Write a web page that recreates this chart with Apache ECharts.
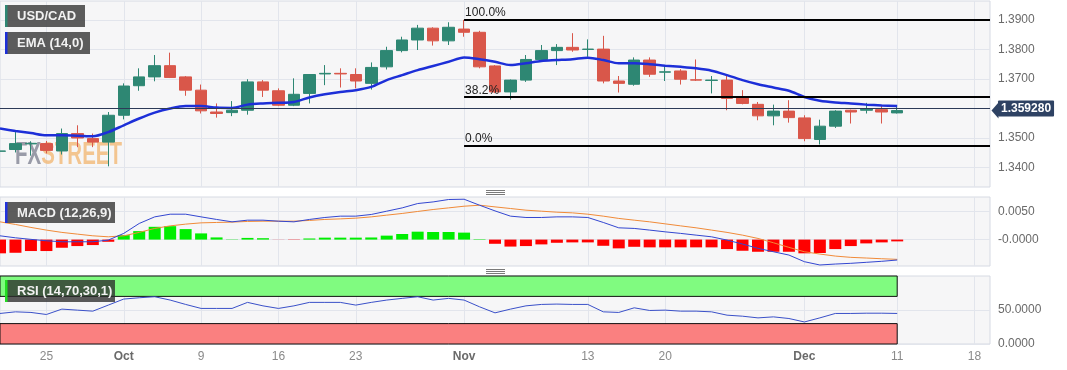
<!DOCTYPE html>
<html>
<head>
<meta charset="utf-8">
<script src="https://cdn.jsdelivr.net/npm/echarts@6.0.0/dist/echarts.min.js"></script>
<style>
html,body{margin:0;padding:0;background:#ffffff;}
#chart{width:1067px;height:370px;}
</style>
</head>
<body>
<div id="chart"></div>
<script>
// ---------------- DATA ----------------
const dates = ['2023-09-20','2023-09-21','2023-09-22','2023-09-25','2023-09-26','2023-09-27','2023-09-28','2023-09-29',
'2023-10-02','2023-10-03','2023-10-04','2023-10-05','2023-10-06','2023-10-09','2023-10-10','2023-10-11','2023-10-12','2023-10-13',
'2023-10-16','2023-10-17','2023-10-18','2023-10-19','2023-10-20','2023-10-23','2023-10-24','2023-10-25','2023-10-26','2023-10-27',
'2023-10-30','2023-10-31','2023-11-01','2023-11-02','2023-11-03','2023-11-06','2023-11-07','2023-11-08','2023-11-09','2023-11-10',
'2023-11-13','2023-11-14','2023-11-15','2023-11-16','2023-11-17','2023-11-20','2023-11-21','2023-11-22','2023-11-23','2023-11-24',
'2023-11-27','2023-11-28','2023-11-29','2023-11-30','2023-12-01','2023-12-04','2023-12-05','2023-12-06','2023-12-07','2023-12-08',
'2023-12-11'];

const openP = [1.3455,1.3461,1.3480,1.3481,1.3456,1.3515,1.3498,1.3486,1.3577,1.3677,
1.3707,1.3745,1.3707,1.3662,1.3588,1.3586,1.3594,1.3690,1.3660,1.3611,
1.3651,1.3717,1.3719,1.3715,1.3685,1.3741,1.3796,1.3832,1.3872,1.3829,
1.3869,1.3858,1.3744,1.3656,1.3696,1.3766,1.3796,1.3807,1.3800,1.3801,
1.3693,1.3682,1.3764,1.3723,1.3727,1.3697,1.3695,1.3696,1.3639,1.3614,
1.3575,1.3591,1.3568,1.3495,1.3540,1.3594,1.3594,1.3596,1.3585];

const closeP = [1.3456,1.3481,1.3482,1.3458,1.3515,1.3500,1.3486,1.3577,1.3676,1.3707,
1.3745,1.3705,1.3662,1.3592,1.3583,1.3594,1.3690,1.3662,1.3611,1.3648,
1.3715,1.3719,1.3717,1.3693,1.3739,1.3796,1.3832,1.3872,1.3829,1.3875,
1.3858,1.3741,1.3656,1.3696,1.3766,1.3796,1.3807,1.3798,1.3801,1.3693,
1.3685,1.3764,1.3716,1.3724,1.3699,1.3696,1.3696,1.3634,1.3617,1.3575,
1.3591,1.3569,1.3498,1.3540,1.3591,1.3588,1.3597,1.3588,1.35928];

const lowP = [1.3397,1.3451,1.3440,1.3448,1.3444,1.3469,1.3469,1.3404,1.3563,1.3660,
1.3692,1.3703,1.3643,1.3583,1.3569,1.3574,1.3579,1.3639,1.3608,1.3608,
1.3617,1.3679,1.3671,1.3668,1.3664,1.3732,1.3790,1.3798,1.3813,1.3815,
1.3843,1.3736,1.3652,1.3630,1.3690,1.3758,1.3747,1.3792,1.3775,1.3685,
1.3654,1.3677,1.3707,1.3693,1.3681,1.3693,1.3651,1.3594,1.3614,1.3560,
1.3543,1.3552,1.3489,1.3478,1.3534,1.3549,1.3583,1.3549,1.3583];

const highP = [1.3482,1.3520,1.3489,1.3490,1.3532,1.3543,1.3515,1.3588,1.3685,1.3736,
1.3781,1.3789,1.3710,1.3681,1.3617,1.3625,1.3699,1.3696,1.3668,1.3702,
1.3716,1.3747,1.3736,1.3736,1.3756,1.3809,1.3843,1.3883,1.3875,1.3892,
1.3900,1.3863,1.3747,1.3698,1.3781,1.3815,1.3818,1.3855,1.3834,1.3846,
1.3710,1.3773,1.3773,1.3747,1.3733,1.3766,1.3710,1.3710,1.3662,1.3622,
1.3613,1.3628,1.3577,1.3562,1.3594,1.3596,1.3619,1.3610,1.3608];

const ema14 = [1.3532,1.3524,1.3517,1.3509,1.3509,1.3508,1.3506,1.3520,1.3543,1.3566,
1.3586,1.3600,1.3608,1.3608,1.3603,1.3602,1.3613,1.3617,1.3619,1.3622,
1.3637,1.3648,1.3656,1.3662,1.3673,1.3696,1.3713,1.3730,1.3744,1.3758,
1.3773,1.3767,1.3758,1.3747,1.3753,1.3761,1.3764,1.3767,1.3772,1.3764,
1.3753,1.3753,1.3750,1.3745,1.3741,1.3736,1.3728,1.3713,1.3696,1.3682,
1.3671,1.3660,1.3639,1.3626,1.3620,1.3617,1.3613,1.3610,1.3608];

const macdLine = [0.00068,0.00032,0.00004,-0.00021,-0.00039,-0.00039,-0.00039,-0.00009,0.00111,0.00289,
0.00407,0.00455,0.00455,0.00407,0.00361,0.00318,0.00348,0.00348,0.00330,0.00318,
0.00361,0.00396,0.00420,0.00420,0.00450,0.00509,0.00568,0.00646,0.00675,0.00718,
0.00723,0.00616,0.00514,0.00420,0.00396,0.00396,0.00407,0.00407,0.00396,0.00307,
0.00211,0.00200,0.00170,0.00139,0.00111,0.00080,0.00050,-0.00009,-0.00080,-0.00157,
-0.00218,-0.00277,-0.00396,-0.00455,-0.00438,-0.00425,-0.00407,-0.00389,-0.00366];

const signalLine = [0.00318,0.00271,0.00218,0.00170,0.00129,0.00098,0.00068,0.00050,0.00068,0.00129,
0.00200,0.00246,0.00277,0.00300,0.00307,0.00313,0.00325,0.00330,0.00330,0.00330,
0.00343,0.00361,0.00371,0.00384,0.00407,0.00438,0.00468,0.00504,0.00539,0.00568,
0.00598,0.00616,0.00586,0.00557,0.00527,0.00509,0.00491,0.00479,0.00455,0.00420,
0.00379,0.00348,0.00318,0.00282,0.00246,0.00211,0.00170,0.00129,0.00080,0.00021,
-0.00057,-0.00139,-0.00218,-0.00259,-0.00295,-0.00318,-0.00330,-0.00343,-0.00354];

const macdHist = [-0.00246,-0.00236,-0.00205,-0.00205,-0.00146,-0.00116,-0.00098,-0.00039,0.00080,0.00152,
0.00229,0.00241,0.00188,0.00111,0.00039,0.00005,0.00030,0.00025,-0.00002,-0.00005,
0.00020,0.00035,0.00035,0.00035,0.00038,0.00071,0.00100,0.00142,0.00136,0.00136,
0.00125,0.00008,-0.00075,-0.00125,-0.00116,-0.00086,-0.00057,-0.00050,-0.00050,-0.00111,
-0.00157,-0.00129,-0.00139,-0.00139,-0.00139,-0.00139,-0.00139,-0.00170,-0.00200,-0.00218,
-0.00218,-0.00218,-0.00246,-0.00240,-0.00170,-0.00116,-0.00068,-0.00050,-0.00032];

const rsi14 = [44.9,47.3,46.4,43.4,51.3,49.8,48.3,57.2,66.1,68.0,
69.5,64.6,58.2,52.3,52.3,52.3,61.2,56.1,52.3,56.1,
61.2,61.2,61.2,57.2,61.2,64.6,67.1,69.5,64.6,67.1,
64.6,54.7,45.8,51.3,56.1,58.2,58.7,58.2,58.2,47.3,
46.4,53.2,49.3,49.8,48.3,48.3,47.3,42.4,40.9,38.4,
39.9,37.5,32.4,38.4,44.9,44.9,45.3,45.3,44.9];

const xTickIndex = [3, 8, 13, 18, 23, 30, 38, 43, 52, 58, 63];
const xTickLabels = ['25', 'Oct', '9', '16', '23', 'Nov', '13', '20', 'Dec', '11', '18'];
const monthLabels = ['Oct', 'Nov', 'Dec'];
const priceTicks = [1.34, 1.35, 1.36, 1.37, 1.38, 1.39];
const priceLabelTicks = [1.34, 1.35, 1.37, 1.38, 1.39];
const macdTicks = [0, 0.005];
const macdTickLabels = ['-0.0000', '0.0050'];
const rsiTicks = [0, 50];
const rsiTickLabels = ['0.0000', '50.0000'];
const lastPrice = 1.35928;
const lastPriceLabel = '1.359280';
const fibStartIndex = 30;
const fibLevels = [1.3900, 1.3638, 1.3475];
const fibLabels = ['100.0%', '38.2%', '0.0%'];
const rsiUpper = 70, rsiLower = 30, rsiTop = 100, rsiBottom = 0;
const panelLabels = ['USD/CAD', 'EMA (14,0)', 'MACD (12,26,9)', 'RSI (14,70,30,1)'];

// ---------------- STYLE ----------------
const UP = '#2e8773', DOWN = '#d9574a';
const FONT = '"Liberation Sans", Arial, sans-serif';
const X_MIN = 0, X_MAX = 64;
const gridLine = '#e2e5ec';

const grids = [
  {left: 0, top: 1, width: 990, height: 186},
  {left: 0, top: 197, width: 990, height: 69},
  {left: 0, top: 276, width: 990, height: 68}
].map(g => Object.assign(g, {show: true, backgroundColor: '#f6f6f7', borderColor: '#d6dae3', borderWidth: 1, outerBoundsMode: 'none', containLabel: false}));

function xAxisFor(i) {
  return {
    type: 'value', gridIndex: i, min: X_MIN, max: X_MAX,
    axisLine: {show: false},
    axisTick: {show: false, customValues: xTickIndex},
    splitLine: {show: true, lineStyle: {color: gridLine, width: 1}},
    axisLabel: {
      show: i === 2, customValues: xTickIndex, margin: 7,
      fontFamily: FONT, fontSize: 12, color: '#8a8a8a',
      formatter: v => {
        const t = xTickLabels[xTickIndex.indexOf(Math.round(v))] || '';
        return monthLabels.includes(t) ? '{m|' + t + '}' : t;
      },
      rich: {m: {fontWeight: 'bold', color: '#6a6a6a', fontSize: 12, fontFamily: FONT}}
    }
  };
}

const yLabelBase = {fontFamily: FONT, fontSize: 12, color: '#6a6a6a', margin: 8};

const candleData = dates.map((d, i) => [i, openP[i], closeP[i], lowP[i], highP[i]]);

const fibLines = fibLevels.map((lv, k) => [
  {coord: [fibStartIndex, lv], lineStyle: {color: '#000', width: 2, type: 'solid'},
   label: {show: true, formatter: fibLabels[k], position: 'insideStartTop', distance: 1, color: '#222', fontSize: 12, fontFamily: FONT, padding: 0}},
  {coord: [X_MAX, lv]}
]);

const WM_FONT = 'bold 32px "Liberation Sans", Arial, sans-serif';

const option = {
  animation: false,
  backgroundColor: '#ffffff',
  grid: grids,
  xAxis: [xAxisFor(0), xAxisFor(1), xAxisFor(2)],
  yAxis: [
    {type: 'value', gridIndex: 0, position: 'right', min: 1.3334, max: 1.3964,
     axisLine: {show: false}, axisTick: {show: false, customValues: priceTicks},
     splitLine: {show: true, lineStyle: {color: gridLine}},
     axisLabel: Object.assign({customValues: priceLabelTicks, formatter: v => v.toFixed(4)}, yLabelBase)},
    {type: 'value', gridIndex: 1, position: 'right', min: -0.00473, max: 0.00763,
     axisLine: {show: false}, axisTick: {show: false, customValues: macdTicks},
     splitLine: {show: true, lineStyle: {color: gridLine}},
     axisLabel: Object.assign({customValues: macdTicks, formatter: v => macdTickLabels[Math.abs(v) < 1e-9 ? 0 : 1]}, yLabelBase)},
    {type: 'value', gridIndex: 2, position: 'right', min: rsiBottom, max: rsiTop,
     axisLine: {show: false}, axisTick: {show: false, customValues: rsiTicks},
     splitLine: {show: true, lineStyle: {color: gridLine}},
     axisLabel: Object.assign({customValues: rsiTicks, formatter: v => rsiTickLabels[v < 1 ? 0 : 1]}, yLabelBase)}
  ],
  series: [
    {
      name: panelLabels[0], type: 'candlestick', xAxisIndex: 0, yAxisIndex: 0,
      data: candleData, encode: {x: 0, y: [1, 2, 3, 4]},
      barWidth: 12, clip: true,
      itemStyle: {color: UP, color0: DOWN, borderColor: UP, borderColor0: DOWN, borderWidth: 1},
      markLine: {
        silent: true, symbol: ['none', 'none'], animation: false,
        data: [
          {yAxis: lastPrice, lineStyle: {color: '#2c3a57', width: 1, type: 'solid'},
           label: {show: true, position: 'end', formatter: lastPriceLabel, distance: 8,
                   backgroundColor: '#2e4263', color: '#ffffff', fontWeight: 'bold', fontSize: 12,
                   fontFamily: FONT, padding: [2, 3, 2, 3], borderRadius: 1}}
        ].concat(fibLines)
      },
      markPoint: {
        silent: true, animation: false,
        data: [{coord: [X_MAX, lastPrice], symbol: 'triangle', symbolSize: [16, 7], symbolRotate: 90,
                symbolOffset: [5, 0], itemStyle: {color: '#2e4263'}, label: {show: false}}]
      }
    },
    {
      name: panelLabels[1], type: 'line', xAxisIndex: 0, yAxisIndex: 0,
      data: dates.map((d, i) => [i, ema14[i]]), showSymbol: false, smooth: 0.3,
      lineStyle: {color: '#1d2fd8', width: 2.5}, z: 3
    },
    {
      name: 'Histogram', type: 'bar', xAxisIndex: 1, yAxisIndex: 1,
      data: dates.map((d, i) => [i, macdHist[i]]), barWidth: 12,
      itemStyle: {color: p => (p.value[1] >= 0 ? '#00ee00' : '#ff0000')}
    },
    {
      name: 'MACD', type: 'line', xAxisIndex: 1, yAxisIndex: 1,
      data: dates.map((d, i) => [i, macdLine[i]]), showSymbol: false,
      lineStyle: {color: '#3346d0', width: 1}, z: 4
    },
    {
      name: 'Signal', type: 'line', xAxisIndex: 1, yAxisIndex: 1,
      data: dates.map((d, i) => [i, signalLine[i]]), showSymbol: false,
      lineStyle: {color: '#f08a38', width: 1}, z: 3
    },
    {
      name: 'RSI', type: 'line', xAxisIndex: 2, yAxisIndex: 2,
      data: dates.map((d, i) => [i, rsi14[i]]), showSymbol: false,
      lineStyle: {color: '#3a50c8', width: 1}, z: 4,
      markArea: {
        silent: true,
        data: [
          [{xAxis: 0, yAxis: rsiUpper, itemStyle: {color: '#80fb80', borderColor: '#111', borderWidth: 1}},
           {xAxis: dates.length - 1, yAxis: rsiTop}],
          [{xAxis: 0, yAxis: rsiBottom, itemStyle: {color: '#fa8080', borderColor: '#111', borderWidth: 1}},
           {xAxis: dates.length - 1, yAxis: rsiLower}]
        ]
      }
    }
  ],
  graphic: [
    // watermark (condensed logo text)
    {type: 'text', z: 1, silent: true, x: 15, y: 155, scaleX: 0.64,
     style: {x: 0, y: 0, text: '{a|FX}{b|STREET}', verticalAlign: 'middle', font: WM_FONT,
             rich: {a: {fill: 'rgba(130,132,148,0.8)', font: WM_FONT},
                    b: {fill: 'rgba(242,180,110,0.75)', font: WM_FONT}}}},
    // legend boxes
    {type: 'rect', z: 100, shape: {x: 5, y: 5, width: 80, height: 22}, style: {fill: 'rgba(78,78,78,0.92)'}},
    {type: 'rect', z: 101, shape: {x: 5, y: 5, width: 2.5, height: 22}, style: {fill: UP}},
    {type: 'text', z: 102, style: {x: 17, y: 16.5, text: panelLabels[0], fill: '#f2f2f2', verticalAlign: 'middle', font: 'bold 13px ' + FONT}},
    {type: 'rect', z: 100, shape: {x: 5, y: 32, width: 85, height: 22}, style: {fill: 'rgba(78,78,78,0.92)'}},
    {type: 'rect', z: 101, shape: {x: 5, y: 32, width: 2.5, height: 22}, style: {fill: '#1d2fd8'}},
    {type: 'text', z: 102, style: {x: 17, y: 43.5, text: panelLabels[1], fill: '#f2f2f2', verticalAlign: 'middle', font: 'bold 13px ' + FONT}},
    {type: 'rect', z: 100, shape: {x: 5, y: 202, width: 110, height: 21}, style: {fill: 'rgba(78,78,78,0.92)'}},
    {type: 'rect', z: 101, shape: {x: 5, y: 202, width: 2.5, height: 21}, style: {fill: '#2233dd'}},
    {type: 'text', z: 102, style: {x: 17, y: 213, text: panelLabels[2], fill: '#f2f2f2', verticalAlign: 'middle', font: 'bold 13px ' + FONT}},
    {type: 'rect', z: 100, shape: {x: 5, y: 280, width: 110, height: 22}, style: {fill: 'rgba(45,45,45,0.78)'}},
    {type: 'rect', z: 101, shape: {x: 5, y: 280, width: 2.5, height: 22}, style: {fill: '#22dd22'}},
    {type: 'text', z: 102, style: {x: 17, y: 291, text: panelLabels[3], fill: '#f2f2f2', verticalAlign: 'middle', font: 'bold 13px ' + FONT}},
    // panel resize handles
    {type: 'group', z: 50, children: [
      {type: 'line', shape: {x1: 486, y1: 190.5, x2: 505, y2: 190.5}, style: {stroke: '#7a7a7a', lineWidth: 1}},
      {type: 'line', shape: {x1: 486, y1: 192.5, x2: 505, y2: 192.5}, style: {stroke: '#7a7a7a', lineWidth: 1}},
      {type: 'line', shape: {x1: 486, y1: 194.5, x2: 505, y2: 194.5}, style: {stroke: '#7a7a7a', lineWidth: 1}},
      {type: 'line', shape: {x1: 486, y1: 269.5, x2: 505, y2: 269.5}, style: {stroke: '#7a7a7a', lineWidth: 1}},
      {type: 'line', shape: {x1: 486, y1: 271.5, x2: 505, y2: 271.5}, style: {stroke: '#7a7a7a', lineWidth: 1}},
      {type: 'line', shape: {x1: 486, y1: 273.5, x2: 505, y2: 273.5}, style: {stroke: '#7a7a7a', lineWidth: 1}}
    ]}
  ]
};

const chart = echarts.init(document.getElementById('chart'), null, {renderer: 'canvas'});
chart.setOption(option);
</script>
</body>
</html>
